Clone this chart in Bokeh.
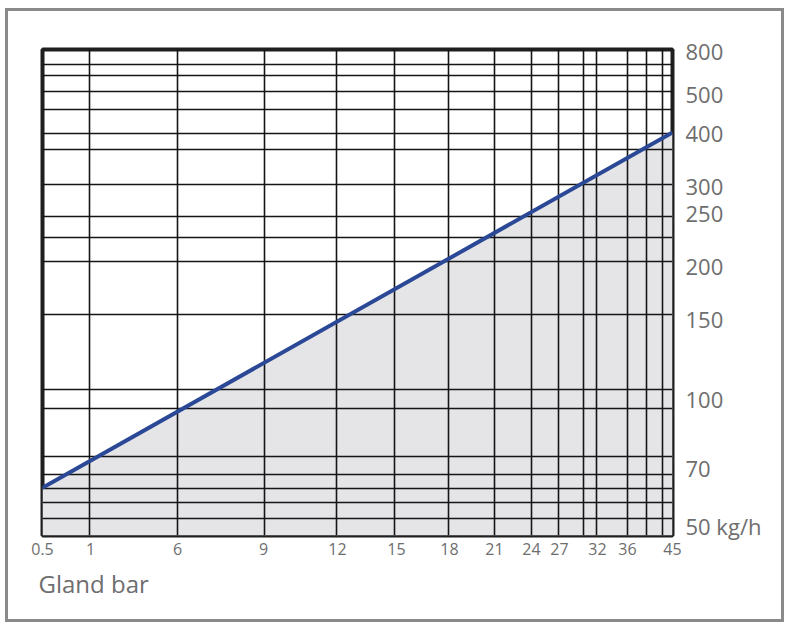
import numpy as np
from bokeh.plotting import figure
from bokeh.models import FixedTicker, Range1d, Title
from bokeh.embed import file_html
from bokeh.resources import INLINE

# ---------------- data ----------------
pressure_ticks = [0.5, 1, 6, 9, 12, 15, 18, 21, 24, 27, 32, 36, 45]
pressure_labels = ["0.5", "1", "6", "9", "12", "15", "18", "21", "24", "27", "32", "36", "45"]
flow_ticks = [50, 70, 100, 150, 200, 250, 300, 400, 500, 800]
flow_labels = ["50 kg/h", "70", "100", "150", "200", "250", "300", "400", "500", "800"]

# capacity line (gland bar pressure -> flow kg/h)
line_pressure = [0.5, 45]
line_flow = [63, 400]

# ---------------- non-linear scale tables (axis units) ----------------
pressure_axis_pos = [0, 48, 135, 221, 295, 354, 407, 452, 489, 517, 555, 585, 630]
flow_axis_pos = [10, 68, 137, 217, 270, 323, 350, 403, 442, 485]
x_grid_pos = [47, 135, 222, 294, 352, 406, 452, 489, 516, 541, 554, 585, 604, 620]
y_grid_pos = [471, 460, 444, 426, 402, 386, 351, 319, 298, 274, 221, 146, 127, 79, 61, 47, 33, 17]

xs = np.interp(line_pressure, pressure_ticks, pressure_axis_pos)
ys = np.interp(line_flow, flow_ticks, flow_axis_pos)

FONT = "Open Sans"
TXT = "#6e6e6e"
W, H = 779, 614

p = figure(width=W, height=H, output_backend="svg", toolbar_location=None,
           x_range=Range1d(0, 630), y_range=Range1d(0, 486),
           x_axis_location="below", y_axis_location="right",
           min_border_left=34, min_border_right=115, min_border_top=38, min_border_bottom=90)
p.styles = {"border": "3px solid #8a8a8a", "margin-left": "5px", "margin-top": "8px"}

p.background_fill_color = "white"
p.border_fill_color = "white"
p.outline_line_color = "#1f1f1f"
p.outline_line_width = 4

# fill under the line
p.varea(x=xs, y1=[0, 0], y2=ys, fill_color="#e5e5e8", level="image")

# grid
p.xgrid[0].ticker = FixedTicker(ticks=x_grid_pos)
p.ygrid[0].ticker = FixedTicker(ticks=y_grid_pos)
for g in (p.xgrid[0], p.ygrid[0]):
    g.grid_line_color = "#151515"
    g.grid_line_width = 1.6
    g.grid_line_alpha = 1

# line
p.line(xs, ys, line_color="#2b4896", line_width=4)

# axes
xa = p.xaxis[0]
xa.ticker = FixedTicker(ticks=pressure_axis_pos)
xa.major_label_overrides = {pos: lab for pos, lab in zip(pressure_axis_pos, pressure_labels)}
ya = p.yaxis[0]
ya.ticker = FixedTicker(ticks=flow_axis_pos)
ya.major_label_overrides = {pos: lab for pos, lab in zip(flow_axis_pos, flow_labels)}
for ax in (xa, ya):
    ax.axis_line_color = None
    ax.major_tick_line_color = None
    ax.minor_tick_line_color = None
    ax.major_tick_out = 0
    ax.major_tick_in = 0
    ax.major_label_text_font = FONT
    ax.major_label_text_color = TXT
xa.major_label_text_font_size = "16px"
xa.major_label_standoff = 7
ya.major_label_text_font_size = "22px"
ya.major_label_standoff = 13

p.add_layout(Title(text="Gland bar", align="left", offset=-4, standoff=14,
                   text_font=FONT, text_font_size="24px", text_font_style="normal",
                   text_color=TXT), "below")

open("out.html", "w").write(file_html(p, INLINE))
